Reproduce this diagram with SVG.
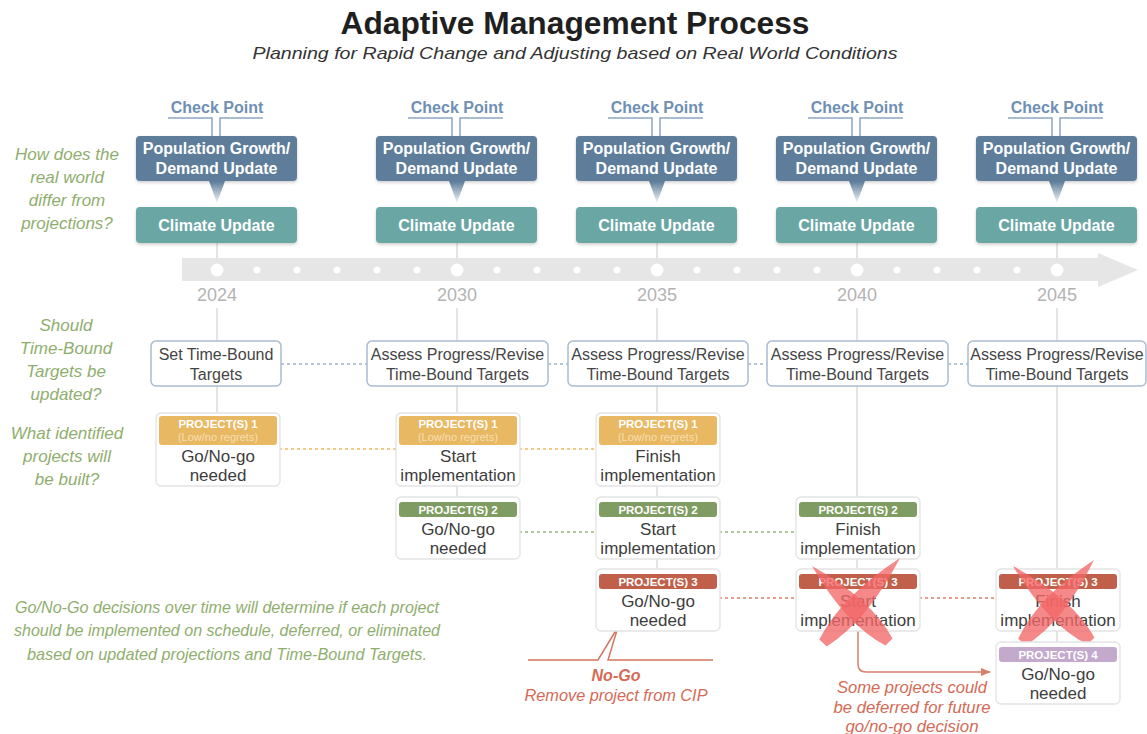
<svg xmlns="http://www.w3.org/2000/svg" width="1147" height="734" viewBox="0 0 1147 734">
<defs>
<style>
text{font-family:"Liberation Sans",Arial,sans-serif;text-anchor:middle}
.title{font-size:32px;font-weight:bold;fill:#1f1f1f}
.sub{font-size:17px;font-style:italic;fill:#333}
.q{font-size:17px;font-style:italic;fill:#8fae6e}
.cp{font-size:16px;font-weight:bold;fill:#6f8fb4}
.wt{font-size:16px;font-weight:bold;fill:#fff}
.pop{fill:#5d7d9b}
.clim{fill:#6aa6a4}
.yr{font-size:18px;fill:#b3b3b3}
.tb{fill:#fff;stroke:#a9bcd3;stroke-width:1.5}
.tt{font-size:16px;fill:#454545}
.pb{fill:#fff;stroke:#e3e3e3;stroke-width:1.3}
.ph{font-size:11.5px;font-weight:bold;fill:#fff}
.lr{font-size:11px;fill:#f7dfb2}
.bt{font-size:17px;fill:#3d3d3d}
.vl{stroke:#dcdcdc;stroke-width:1.5;fill:none}
.br{stroke:#8aa5c2;stroke-width:1.5;fill:none}
.d{stroke-width:1.5;stroke-dasharray:3 3;fill:none}
.rd{font-size:16px;font-style:italic;fill:#d46a55}
.x{fill:#f26666;fill-opacity:0.78}
</style>
<linearGradient id="taper" x1="0" y1="0" x2="0" y2="1">
<stop offset="0" stop-color="#5d7d9b"/>
<stop offset="1" stop-color="#5d7d9b" stop-opacity="0.08"/>
</linearGradient>
<filter id="sh" x="-10%" y="-10%" width="120%" height="130%">
<feDropShadow dx="0" dy="1.5" stdDeviation="1.5" flood-color="#000" flood-opacity="0.2"/>
</filter>
<marker id="ah" viewBox="0 0 10 10" refX="9" refY="5" markerWidth="7" markerHeight="7" orient="auto">
<path d="M0,1 L10,5 L0,9 Z" fill="#d8806a"/>
</marker>
</defs>

<rect width="1147" height="734" fill="#fff"/>

<g id="title">
<text class="title" x="575" y="34" textLength="469" lengthAdjust="spacingAndGlyphs">Adaptive Management Process</text>
<text class="sub" x="575" y="59" textLength="645" lengthAdjust="spacingAndGlyphs">Planning for Rapid Change and Adjusting based on Real World Conditions</text>
</g>

<g id="questions">
<text class="q" x="67" y="160">How does the</text>
<text class="q" x="67" y="183">real world</text>
<text class="q" x="67" y="206">differ from</text>
<text class="q" x="67" y="229">projections?</text>
<text class="q" x="66" y="331">Should</text>
<text class="q" x="66" y="354">Time-Bound</text>
<text class="q" x="66" y="377">Targets be</text>
<text class="q" x="66" y="400">updated?</text>
<text class="q" x="67" y="439">What identified</text>
<text class="q" x="67" y="462">projects will</text>
<text class="q" x="67" y="485">be built?</text>
<text class="q" x="227" y="613" textLength="424" lengthAdjust="spacingAndGlyphs">Go/No-Go decisions over time will determine if each project</text>
<text class="q" x="227" y="636" textLength="426" lengthAdjust="spacingAndGlyphs">should be implemented on schedule, deferred, or eliminated</text>
<text class="q" x="227" y="660" textLength="400" lengthAdjust="spacingAndGlyphs">based on updated projections and Time-Bound Targets.</text>
</g>

<g id="timeline">
<path d="M182,258 H1098 V253 L1138,270 L1098,287 V281 H182 Z" fill="#e6e6e6"/>
<g fill="#fff">
<circle cx="217" cy="270" r="6.5"/><circle cx="457" cy="270" r="6.5"/><circle cx="657" cy="270" r="6.5"/><circle cx="857" cy="270" r="6.5"/><circle cx="1057" cy="270" r="6.5"/>
<circle cx="257" cy="270" r="3.5"/><circle cx="297" cy="270" r="3.5"/><circle cx="337" cy="270" r="3.5"/><circle cx="377" cy="270" r="3.5"/><circle cx="417" cy="270" r="3.5"/>
<circle cx="497" cy="270" r="3.5"/><circle cx="537" cy="270" r="3.5"/><circle cx="577" cy="270" r="3.5"/><circle cx="617" cy="270" r="3.5"/>
<circle cx="697" cy="270" r="3.5"/><circle cx="737" cy="270" r="3.5"/><circle cx="777" cy="270" r="3.5"/><circle cx="817" cy="270" r="3.5"/>
<circle cx="897" cy="270" r="3.5"/><circle cx="937" cy="270" r="3.5"/><circle cx="977" cy="270" r="3.5"/><circle cx="1017" cy="270" r="3.5"/>
</g>
<text class="yr" x="217" y="301">2024</text>
<text class="yr" x="457" y="301">2030</text>
<text class="yr" x="657" y="301">2035</text>
<text class="yr" x="857" y="301">2040</text>
<text class="yr" x="1057" y="301">2045</text>
</g>

<g id="connectors">
<path class="vl" d="M217,243 V258 M457,243 V258 M657,243 V258 M857,243 V258 M1057,243 V258"/>
<path class="vl" d="M217,308 V341 M457,308 V341 M657,308 V341 M857,308 V341 M1057,308 V341"/>
<path class="vl" d="M217,386 V413 M457,386 V413 M457,486 V497 M657,386 V413 M657,486 V497 M657,559 V569 M857,386 V497 M857,559 V569 M1057,386 V569 M1057,631 V642"/>
<path class="d" stroke="#9fb3cc" d="M281,364 H367 M548,364 H568 M748,364 H767 M948,364 H968"/>
<path class="d" stroke="#f0b860" d="M279,449 H396 M519,449 H596"/>
<path class="d" stroke="#9ab67a" d="M519,532 H596 M719,532 H796"/>
<path class="d" stroke="#e0806a" d="M719,598 H796 M919,598 H996"/>
<path d="M858,631 V664 Q858,672 866,672 H990" stroke="#d8806a" stroke-width="1.5" fill="none" marker-end="url(#ah)"/>
<path d="M528,660 H598 L618,627 L608,660 H713" stroke="#d4755e" stroke-width="1.5" fill="none"/>
</g>

<g id="checkpoint-2024">
<text class="cp" x="217" y="113">Check Point</text>
<path class="br" d="M168,118 H212 V136 M220,136 V118 H263"/>
<rect class="pop" x="136" y="136" width="161" height="45" rx="4" filter="url(#sh)"/>
<text class="wt" x="216.5" y="154">Population Growth/</text>
<text class="wt" x="216.5" y="174">Demand Update</text>
<path d="M209,181 H225 L217,203 Z" fill="url(#taper)"/>
<rect class="clim" x="136" y="207" width="161" height="36" rx="4" filter="url(#sh)"/>
<text class="wt" x="216.5" y="231">Climate Update</text>
</g>
<g id="checkpoint-2030">
<text class="cp" x="457" y="113">Check Point</text>
<path class="br" d="M408,118 H452 V136 M460,136 V118 H503"/>
<rect class="pop" x="376" y="136" width="161" height="45" rx="4" filter="url(#sh)"/>
<text class="wt" x="456.5" y="154">Population Growth/</text>
<text class="wt" x="456.5" y="174">Demand Update</text>
<path d="M449,181 H465 L457,203 Z" fill="url(#taper)"/>
<rect class="clim" x="376" y="207" width="161" height="36" rx="4" filter="url(#sh)"/>
<text class="wt" x="456.5" y="231">Climate Update</text>
</g>
<g id="checkpoint-2035">
<text class="cp" x="657" y="113">Check Point</text>
<path class="br" d="M608,118 H652 V136 M660,136 V118 H703"/>
<rect class="pop" x="576" y="136" width="161" height="45" rx="4" filter="url(#sh)"/>
<text class="wt" x="656.5" y="154">Population Growth/</text>
<text class="wt" x="656.5" y="174">Demand Update</text>
<path d="M649,181 H665 L657,203 Z" fill="url(#taper)"/>
<rect class="clim" x="576" y="207" width="161" height="36" rx="4" filter="url(#sh)"/>
<text class="wt" x="656.5" y="231">Climate Update</text>
</g>
<g id="checkpoint-2040">
<text class="cp" x="857" y="113">Check Point</text>
<path class="br" d="M808,118 H852 V136 M860,136 V118 H903"/>
<rect class="pop" x="776" y="136" width="161" height="45" rx="4" filter="url(#sh)"/>
<text class="wt" x="856.5" y="154">Population Growth/</text>
<text class="wt" x="856.5" y="174">Demand Update</text>
<path d="M849,181 H865 L857,203 Z" fill="url(#taper)"/>
<rect class="clim" x="776" y="207" width="161" height="36" rx="4" filter="url(#sh)"/>
<text class="wt" x="856.5" y="231">Climate Update</text>
</g>
<g id="checkpoint-2045">
<text class="cp" x="1057" y="113">Check Point</text>
<path class="br" d="M1008,118 H1052 V136 M1060,136 V118 H1103"/>
<rect class="pop" x="976" y="136" width="161" height="45" rx="4" filter="url(#sh)"/>
<text class="wt" x="1056.5" y="154">Population Growth/</text>
<text class="wt" x="1056.5" y="174">Demand Update</text>
<path d="M1049,181 H1065 L1057,203 Z" fill="url(#taper)"/>
<rect class="clim" x="976" y="207" width="161" height="36" rx="4" filter="url(#sh)"/>
<text class="wt" x="1056.5" y="231">Climate Update</text>
</g>

<g id="targets-2024">
<rect class="tb" x="151" y="341" width="130" height="45" rx="5"/>
<text class="tt" x="216" y="360">Set Time-Bound</text>
<text class="tt" x="216" y="380">Targets</text>
</g>
<g id="targets-2030">
<rect class="tb" x="367" y="341" width="181" height="45" rx="5"/>
<text class="tt" x="457.5" y="360">Assess Progress/Revise</text>
<text class="tt" x="457.5" y="380">Time-Bound Targets</text>
</g>
<g id="targets-2035">
<rect class="tb" x="568" y="341" width="180" height="45" rx="5"/>
<text class="tt" x="658" y="360">Assess Progress/Revise</text>
<text class="tt" x="658" y="380">Time-Bound Targets</text>
</g>
<g id="targets-2040">
<rect class="tb" x="767" y="341" width="181" height="45" rx="5"/>
<text class="tt" x="857.5" y="360">Assess Progress/Revise</text>
<text class="tt" x="857.5" y="380">Time-Bound Targets</text>
</g>
<g id="targets-2045">
<rect class="tb" x="968" y="341" width="178" height="45" rx="5"/>
<text class="tt" x="1057" y="360">Assess Progress/Revise</text>
<text class="tt" x="1057" y="380">Time-Bound Targets</text>
</g>

<g id="p1-2024">
<rect class="pb" x="156" y="413" width="124" height="73" rx="5"/>
<rect x="159" y="416" width="118" height="29" rx="3" fill="#e8b862"/>
<text class="ph" x="218" y="428">PROJECT(S) 1</text>
<text class="lr" x="218" y="441">(Low/no regrets)</text>
<text class="bt" x="218" y="462">Go/No-go</text>
<text class="bt" x="218" y="481">needed</text>
</g>
<g id="p1-2030">
<rect class="pb" x="396" y="413" width="124" height="73" rx="5"/>
<rect x="399" y="416" width="118" height="29" rx="3" fill="#e8b862"/>
<text class="ph" x="458" y="428">PROJECT(S) 1</text>
<text class="lr" x="458" y="441">(Low/no regrets)</text>
<text class="bt" x="458" y="462">Start</text>
<text class="bt" x="458" y="481">implementation</text>
</g>
<g id="p1-2035">
<rect class="pb" x="596" y="413" width="124" height="73" rx="5"/>
<rect x="599" y="416" width="118" height="29" rx="3" fill="#e8b862"/>
<text class="ph" x="658" y="428">PROJECT(S) 1</text>
<text class="lr" x="658" y="441">(Low/no regrets)</text>
<text class="bt" x="658" y="462">Finish</text>
<text class="bt" x="658" y="481">implementation</text>
</g>

<g id="p2-2030">
<rect class="pb" x="396" y="497" width="124" height="62" rx="5"/>
<rect x="399" y="502" width="118" height="15" rx="3" fill="#7f9c62"/>
<text class="ph" x="458" y="514">PROJECT(S) 2</text>
<text class="bt" x="458" y="535">Go/No-go</text>
<text class="bt" x="458" y="554">needed</text>
</g>
<g id="p2-2035">
<rect class="pb" x="596" y="497" width="124" height="62" rx="5"/>
<rect x="599" y="502" width="118" height="15" rx="3" fill="#7f9c62"/>
<text class="ph" x="658" y="514">PROJECT(S) 2</text>
<text class="bt" x="658" y="535">Start</text>
<text class="bt" x="658" y="554">implementation</text>
</g>
<g id="p2-2040">
<rect class="pb" x="796" y="497" width="124" height="62" rx="5"/>
<rect x="799" y="502" width="118" height="15" rx="3" fill="#7f9c62"/>
<text class="ph" x="858" y="514">PROJECT(S) 2</text>
<text class="bt" x="858" y="535">Finish</text>
<text class="bt" x="858" y="554">implementation</text>
</g>

<g id="p3-2035">
<rect class="pb" x="596" y="569" width="124" height="62" rx="5"/>
<rect x="599" y="574" width="118" height="15" rx="3" fill="#c0604a"/>
<text class="ph" x="658" y="586">PROJECT(S) 3</text>
<text class="bt" x="658" y="607">Go/No-go</text>
<text class="bt" x="658" y="626">needed</text>
</g>
<g id="p3-2040">
<rect class="pb" x="796" y="569" width="124" height="62" rx="5"/>
<rect x="799" y="574" width="118" height="15" rx="3" fill="#c0604a"/>
<text class="ph" x="858" y="586">PROJECT(S) 3</text>
<text class="bt" x="858" y="607">Start</text>
<text class="bt" x="858" y="626">implementation</text>
<path class="x" d="M812,566 Q845.5,624.4 885.5,645.6 L892.5,638.4 Q870.9,598.8 812,566 Z"/>
<path class="x" d="M900,558 Q867.1,621.1 826.7,646.4 L819.3,639.6 Q840.5,596.9 900,558 Z"/>
</g>
<g id="p3-2045">
<rect class="pb" x="996" y="569" width="124" height="62" rx="5"/>
<rect x="999" y="574" width="118" height="15" rx="3" fill="#c0604a"/>
<text class="ph" x="1058" y="586">PROJECT(S) 3</text>
<text class="bt" x="1058" y="607">Finish</text>
<text class="bt" x="1058" y="626">implementation</text>
<path class="x" d="M1013,566 Q1047.3,624 1087.5,644.6 L1094.5,637.4 Q1072.3,598 1013,566 Z"/>
<path class="x" d="M1094,560 Q1064.3,621.1 1025.8,645.3 L1018.2,638.7 Q1037.3,597.3 1094,560 Z"/>
</g>
<g id="p4-2045">
<rect class="pb" x="996" y="642" width="124" height="62" rx="5"/>
<rect x="999" y="647" width="118" height="15" rx="3" fill="#c3a9cc"/>
<text class="ph" x="1058" y="659">PROJECT(S) 4</text>
<text class="bt" x="1058" y="680">Go/No-go</text>
<text class="bt" x="1058" y="699">needed</text>
</g>

<g id="nogo-note">
<text class="rd" x="616" y="681" font-weight="bold">No-Go</text>
<text class="rd" x="616" y="701" textLength="183" lengthAdjust="spacingAndGlyphs">Remove project from CIP</text>
</g>
<g id="defer-note">
<text class="rd" x="912" y="693" textLength="150" lengthAdjust="spacingAndGlyphs">Some projects could</text>
<text class="rd" x="912" y="713" textLength="157" lengthAdjust="spacingAndGlyphs">be deferred for future</text>
<text class="rd" x="912" y="732" textLength="133" lengthAdjust="spacingAndGlyphs">go/no-go decision</text>
</g>
</svg>
